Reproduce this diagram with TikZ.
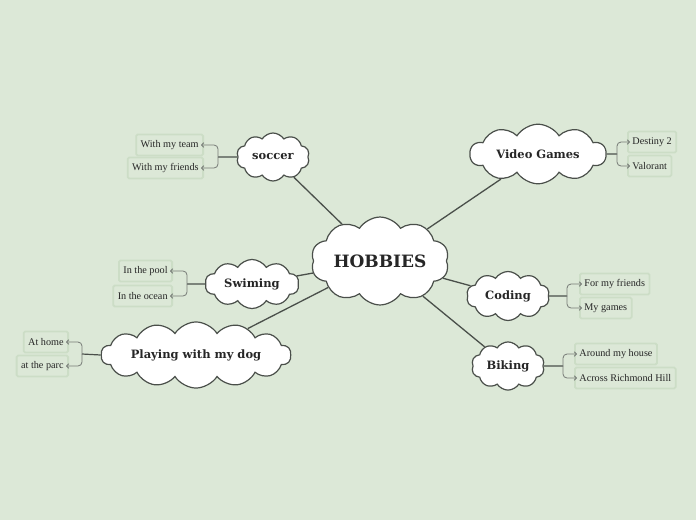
\documentclass[tikz,border=0pt]{standalone}
\usepackage{fontspec}
\setmainfont{Liberation Serif}
\newfontfamily\slab{DejaVu Serif}
\usetikzlibrary{shapes.symbols,arrows.meta}
\definecolor{bg}{HTML}{DCE8D7}
\definecolor{leafborder}{HTML}{CCDDC6}
\definecolor{lineg}{HTML}{4A4F4A}
\definecolor{armg}{HTML}{767A76}
\tikzset{
  cl/.style={cloud, cloud puffs=10, cloud puff arc=115, draw=lineg, line width=1.2pt, fill=white, inner sep=0pt, font=\slab\bfseries\fontsize{11.5}{13}\selectfont, text=black!85},
  leaf/.style={draw=leafborder, line width=1.8pt, rounded corners=1.5pt, fill=bg, minimum height=21pt, inner xsep=4.5pt, inner ysep=0pt, font=\fontsize{10.2}{12}\selectfont, text=black!85},
  main/.style={draw=lineg, line width=1.3pt},
  stub/.style={draw=lineg, line width=1.2pt},
  arm/.style={draw=armg, line width=0.8pt, rounded corners=4pt, -{Straight Barb[length=2.2pt,width=4.5pt]}},
}
\begin{document}
\begin{tikzpicture}[x=1pt,y=-1pt]
\fill[bg] (0,0) rectangle (696,520);
\useasboundingbox (0,0) rectangle (696,520);
% clouds
\node[cl, aspect=1.9, minimum width=138, minimum height=73, font=\slab\bfseries\fontsize{17}{19}\selectfont] (hob) at (380,261) {HOBBIES};
\node[cl, aspect=1.52, minimum width=73, minimum height=48] (soc) at (273,157) {soccer};
\node[cl, aspect=2.83, minimum width=136, minimum height=48] (vid) at (538,154) {Video Games};
\node[cl, aspect=2.09, minimum width=94, minimum height=45] (swi) at (252,284) {Swiming};
\node[cl, aspect=4.13, minimum width=190, minimum height=46, cloud puffs=14] (dog) at (196,355) {Playing with my dog};
\node[cl, aspect=1.7, minimum width=83, minimum height=49] (cod) at (508,296) {Coding};
\node[cl, aspect=1.52, minimum width=73, minimum height=48] (bik) at (508,366) {Biking};
% main connectors
\draw[main] (hob) -- (soc);
\draw[main] (hob) -- (vid);
\draw[main] (hob) -- (swi);
\draw[main] (hob) -- (dog);
\draw[main] (hob) -- (cod);
\draw[main] (hob) -- (bik);
% leaves
\node[leaf, anchor=east] (s1) at (204,145) {With my team};
\node[leaf, anchor=east] (s2) at (204,168) {With my friends};
\node[leaf, anchor=west] (v1) at (627,142) {Destiny 2};
\node[leaf, anchor=west] (v2) at (627,166) {Valorant};
\node[leaf, anchor=east] (w1) at (173,271) {In the pool};
\node[leaf, anchor=east] (w2) at (173,296) {In the ocean};
\node[leaf, anchor=east] (d1) at (69,342) {At home};
\node[leaf, anchor=east] (d2) at (69,366) {at the parc};
\node[leaf, anchor=west] (c1) at (579,284) {For my friends};
\node[leaf, anchor=west] (c2) at (579,308) {My games};
\node[leaf, anchor=west] (b1) at (574,354) {Around my house};
\node[leaf, anchor=west] (b2) at (574,378) {Across Richmond Hill};
% junctions
\coordinate (sj) at (218,157);
\coordinate (vj) at (617,154);
\coordinate (wj) at (187,284);
\coordinate (dj) at (82,354);
\coordinate (cj) at (567,296);
\coordinate (bj) at (563,366);
\draw[stub] (soc.west) -- (sj);
\draw[stub] (vid.east) -- (vj);
\draw[stub] (swi.west) -- (wj);
\draw[stub] (dog.west) -- (dj);
\draw[stub] (cod.east) -- (cj);
\draw[stub] (bik.east) -- (bj);
\draw[arm] (sj) |- ([xshift=-3pt]s1.east);
\draw[arm] (sj) |- ([xshift=-3pt]s2.east);
\draw[arm] (vj) |- ([xshift=3pt]v1.west);
\draw[arm] (vj) |- ([xshift=3pt]v2.west);
\draw[arm] (wj) |- ([xshift=-3pt]w1.east);
\draw[arm] (wj) |- ([xshift=-3pt]w2.east);
\draw[arm] (dj) |- ([xshift=-3pt]d1.east);
\draw[arm] (dj) |- ([xshift=-3pt]d2.east);
\draw[arm] (cj) |- ([xshift=3pt]c1.west);
\draw[arm] (cj) |- ([xshift=3pt]c2.west);
\draw[arm] (bj) |- ([xshift=3pt]b1.west);
\draw[arm] (bj) |- ([xshift=3pt]b2.west);
\end{tikzpicture}
\end{document}
